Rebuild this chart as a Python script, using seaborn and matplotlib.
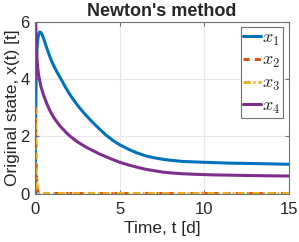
import numpy as np
import pandas as pd
import matplotlib
matplotlib.use('Agg')
import matplotlib.pyplot as plt
import seaborn as sns

# values
t = [0, 0.01, 0.02, 0.035, 0.05, 0.075, 0.1, 0.15, 0.2, 0.26, 0.33, 0.4, 0.5,
     0.6, 0.75, 0.93, 1.1, 1.3, 1.52, 1.75, 2.0, 2.25, 2.5, 2.75, 3.0, 3.4,
     3.8, 4.2, 4.6, 5.0, 5.5, 6.0, 6.5, 7.0, 7.5, 8.0, 8.7, 9.5, 10.5, 11.5,
     12.5, 13.5, 15]
x1 = [0, 1.2, 2.2, 3.3, 4.1, 4.7, 5.05, 5.4, 5.57, 5.64, 5.62, 5.55, 5.4,
      5.22, 4.96, 4.67, 4.45, 4.22, 4.0, 3.75, 3.5, 3.28, 3.08, 2.9, 2.73, 2.48,
      2.25, 2.03, 1.85, 1.7, 1.55, 1.42, 1.32, 1.25, 1.2, 1.16, 1.12, 1.1, 1.08, 1.06,
      1.05, 1.04, 1.02]
x2 = [3.0, 2.5, 2.0, 1.4, 1.0, 0.55, 0.3, 0.08, 0.03, 0.01, 0, 0, 0,
      0, 0, 0, 0, 0, 0, 0, 0, 0, 0, 0, 0, 0,
      0, 0, 0, 0, 0, 0, 0, 0, 0, 0, 0, 0, 0, 0,
      0, 0, 0]
x3 = [3.0, 2.5, 2.0, 1.4, 1.0, 0.55, 0.3, 0.08, 0.03, 0.01, 0, 0, 0,
      0, 0, 0, 0, 0, 0, 0, 0, 0, 0, 0, 0, 0,
      0, 0, 0, 0, 0, 0, 0, 0, 0, 0, 0, 0, 0, 0,
      0, 0, 0]
x4 = [4.0, 5.5, 6.0, 5.7, 5.35, 4.95, 4.7, 4.35, 4.12, 3.95, 3.75, 3.6, 3.42,
      3.26, 3.04, 2.82, 2.65, 2.48, 2.32, 2.18, 2.03, 1.91, 1.8, 1.71, 1.62, 1.5,
      1.38, 1.28, 1.18, 1.09, 1.0, 0.92, 0.85, 0.8, 0.75, 0.72, 0.69, 0.67, 0.65, 0.64,
      0.63, 0.62, 0.61]

labels = ['$x_1$', '$x_2$', '$x_3$', '$x_4$']
colors = ['#0072BD', '#D95319', '#EDB120', '#7E2F8E']
dashes = [None, (2.0, 1.7), (2.3, 1.0, 0.6, 1.0), None]

sns.set_style('ticks')
plt.rcParams['font.family'] = ['Liberation Sans', 'DejaVu Sans']
plt.rcParams['mathtext.fontset'] = 'cm'

fig = plt.figure(figsize=(2.99, 2.42), dpi=100)
ax = fig.add_axes([0.118, 0.2004, 0.8476, 0.7103])

for y, lab, c, d in zip([x1, x2, x3, x4], labels, colors, dashes):
    sns.lineplot(x=t, y=y, ax=ax, color=c, lw=2.2, label=lab,
                 estimator=None, sort=False)
    if d is not None:
        ax.lines[-1].set_dashes(d)

ax.set_xlim(0, 15)
ax.set_ylim(0, 6)
ax.set_xticks([0, 5, 10, 15])
ax.set_yticks([0, 2, 4, 6])
ax.grid(True, color='#e6e6e6', lw=0.8)
ax.set_axisbelow(True)
for s in ax.spines.values():
    s.set_visible(True)
    s.set_color('#707070')
    s.set_linewidth(0.8)
ax.tick_params(direction='in', length=3, width=0.8, color='#707070',
               labelsize=12, labelcolor='#262626', top=True, right=True, pad=4)
ax.tick_params(axis='x', pad=6)

ax.set_title("Newton's method", fontsize=13, fontweight='bold', pad=4)
ax.set_xlabel('Time, t [d]', fontsize=12.5, color='#262626', labelpad=3)
ax.set_ylabel('Original state, x(t) [t]', fontsize=12.5, color='#262626', labelpad=0)

leg = ax.legend(loc='upper right', fontsize=13, handlelength=0.95,
                handletextpad=0.1, labelspacing=0.25, borderpad=0.15,
                borderaxespad=0.3, fancybox=False, framealpha=1)
leg.get_frame().set_edgecolor('#707070')
leg.get_frame().set_linewidth(0.8)

fig.savefig('out.png', dpi=100)
